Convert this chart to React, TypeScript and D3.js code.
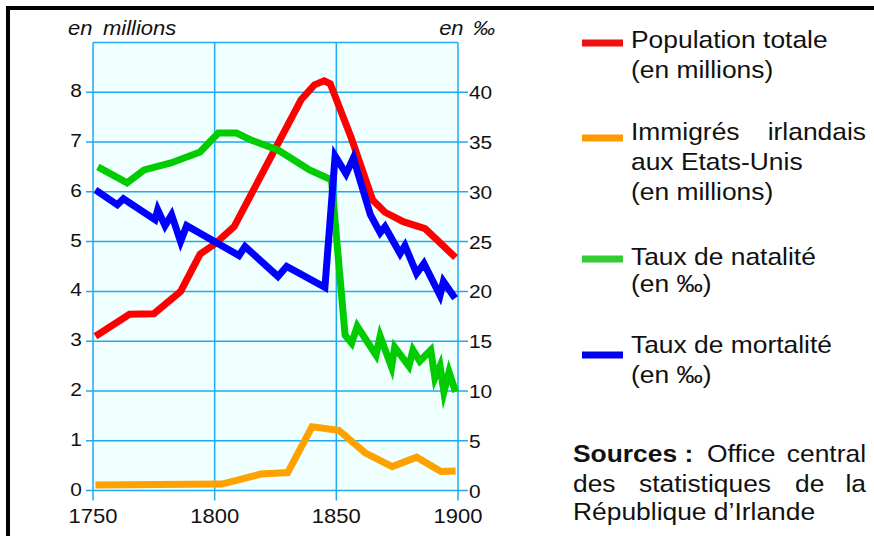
import * as d3 from 'd3';
import type { ReactNode } from 'react';

// population totale (millions)
const popYears = [1751, 1765, 1775, 1786, 1794, 1800, 1808, 1835.5, 1841, 1845, 1847.5, 1856, 1865, 1870, 1877.5, 1886.5, 1899];
const popValues = [3.1, 3.54, 3.55, 4.0, 4.75, 4.95, 5.3, 7.85, 8.15, 8.23, 8.17, 7.1, 5.83, 5.59, 5.4, 5.26, 4.68];

// immigres irlandais aux Etats-Unis (millions)
const emiYears = [1751, 1803, 1819, 1830, 1840, 1851, 1862, 1873, 1883, 1893, 1899];
const emiValues = [0.11, 0.13, 0.33, 0.36, 1.28, 1.21, 0.75, 0.48, 0.67, 0.38, 0.39];

// taux de natalite (pour mille)
const natYears = [1752, 1764, 1771, 1782, 1794, 1801.5, 1809, 1815, 1826, 1839, 1848, 1853.6, 1856.3, 1858.6, 1866.3, 1868, 1872.7, 1874, 1879.8, 1881.5, 1884.3, 1888.8, 1890.5, 1892.6, 1894.2, 1896.3, 1899];
const natValues = [32.5, 30.9, 32.2, 32.9, 34.0, 35.9, 35.9, 35.2, 34.2, 32.2, 31.2, 15.6, 14.8, 16.5, 13.6, 15.5, 12.4, 14.4, 12.5, 14.1, 13.0, 14.1, 11.3, 12.5, 9.9, 11.9, 9.9];

// taux de mortalite (pour mille)
const morYears = [1751, 1760, 1762.5, 1775.5, 1776.6, 1779.6, 1782.3, 1786, 1788.5, 1810, 1812.5, 1826, 1829.6, 1845.3, 1849.5, 1854, 1857, 1864, 1868, 1870, 1876.2, 1878.2, 1883, 1886, 1892.6, 1894, 1898.8];
const morValues = [30.2, 28.7, 29.3, 27.2, 28.2, 26.6, 27.7, 25.0, 26.6, 23.6, 24.5, 21.5, 22.5, 20.4, 33.6, 31.8, 33.4, 27.7, 25.9, 26.5, 23.8, 24.6, 21.8, 22.8, 19.6, 21.0, 19.3];

const yearTicks = [1750, 1800, 1850, 1900];
const leftTicks = [0, 1, 2, 3, 4, 5, 6, 7, 8];
const rightTicks = [0, 5, 10, 15, 20, 25, 30, 35, 40];

const FONT = '"Liberation Sans", Arial, sans-serif';
const GRID = '#1eaaf0';
const SX = 1.1; // the original lettering is a bit stretched sideways

const x = d3.scaleLinear().domain([1750, 1900]).range([93, 458]);
const yL = d3.scaleLinear().domain([0, 9]).range([490.5, 42.5]);
const yR = d3.scaleLinear().domain([0, 45]).range([490.5, 42.5]);

const makePath = (years: number[], values: number[], y: d3.ScaleLinear<number, number>) =>
  d3
    .line<number>()
    .x((_d, i) => x(years[i]))
    .y((d) => y(d))(values) as string;

const series = [
  { years: popYears, values: popValues, y: yL, color: '#ff0000' },
  { years: emiYears, values: emiValues, y: yL, color: '#ffa200' },
  { years: natYears, values: natValues, y: yR, color: '#00cc00' },
  { years: morYears, values: morValues, y: yR, color: '#0000ff' },
];

const legend = [
  { color: '#ee1111', y: 43, lines: [{ t: 'Population totale', b: 48 }, { t: '(en millions)', b: 78 }] },
  { color: '#ff9900', y: 138, lines: [{ t: 'aux Etats-Unis', b: 170 }, { t: '(en millions)', b: 200 }] },
  { color: '#33cc33', y: 259, lines: [{ t: 'Taux de natalité', b: 265 }, { t: '(en ‰)', b: 292 }] },
  { color: '#0000ee', y: 355, lines: [{ t: 'Taux de mortalité', b: 353 }, { t: '(en ‰)', b: 383 }] },
];

type TProps = {
  x: number;
  y: number;
  size: number;
  anchor?: 'start' | 'middle' | 'end';
  bold?: boolean;
  italic?: boolean;
  wordSpacing?: number;
  children: ReactNode;
};

const T = ({ x, y, size, anchor = 'start', bold, italic, wordSpacing, children }: TProps) => (
  <text
    transform={`translate(${x},${y}) scale(${SX},1)`}
    textAnchor={anchor}
    fontSize={size}
    fontWeight={bold ? 'bold' : 'normal'}
    fontStyle={italic ? 'italic' : 'normal'}
    wordSpacing={wordSpacing}
    fill="#111"
  >
    {children}
  </text>
);

export default function App() {
  const [x0, x1] = x.range();
  const [yb, yt] = yL.range();
  return (
    <svg
      width={874}
      height={536}
      style={{ position: 'absolute', left: 0, top: 0, background: '#fff' }}
      fontFamily={FONT}
    >
      {/* frame */}
      <rect x={8} y={8} width={900} height={600} fill="none" stroke="#000" strokeWidth={4} />

      {/* plot background */}
      <rect x={x0} y={yt} width={x1 - x0} height={yb - yt} fill="#f0ffff" />

      {/* grid */}
      {leftTicks.map((t) => (
        <line key={'h' + t} x1={x0 - 7} x2={x1 + 10} y1={yL(t)} y2={yL(t)} stroke={GRID} strokeWidth={1.5} />
      ))}
      <line x1={x0} x2={x1} y1={yt} y2={yt} stroke={GRID} strokeWidth={1.5} />
      {yearTicks.map((t) => (
        <line key={'v' + t} x1={x(t)} x2={x(t)} y1={yt} y2={yb + 10} stroke={GRID} strokeWidth={1.5} />
      ))}

      {/* series */}
      {series.map((s, i) => (
        <path
          key={i}
          d={makePath(s.years, s.values, s.y)}
          fill="none"
          stroke={s.color}
          strokeWidth={7}
          strokeLinejoin="miter"
          strokeMiterlimit={10}
        />
      ))}

      {/* axis labels */}
      {leftTicks.map((t) => (
        <T key={'l' + t} x={82} y={yL(t) + 5} size={19} anchor="end">
          {t}
        </T>
      ))}
      {rightTicks.map((t) => (
        <T key={'r' + t} x={469} y={yR(t) + 7} size={19}>
          {t}
        </T>
      ))}
      {yearTicks.map((t) => (
        <T key={'b' + t} x={x(t)} y={523} size={20} anchor="middle">
          {t}
        </T>
      ))}
      <T x={68} y={35} size={20} italic wordSpacing={4}>
        en millions
      </T>
      <T x={495} y={35} size={20} italic anchor="end" wordSpacing={3}>
        en ‰
      </T>

      {/* legend */}
      {legend.map((l, i) => (
        <g key={i}>
          <line x1={582} x2={623} y1={l.y} y2={l.y} stroke={l.color} strokeWidth={7} />
          {l.lines.map((ln, j) => (
            <T key={j} x={631} y={ln.b} size={24}>
              {ln.t}
            </T>
          ))}
        </g>
      ))}
      <T x={631} y={140} size={24}>Immigrés</T>
      <T x={866} y={140} size={24} anchor="end">irlandais</T>

      {/* sources */}
      <T x={573} y={462} size={24} bold>Sources :</T>
      <T x={707} y={462} size={24}>Office</T>
      <T x={866} y={462} size={24} anchor="end">central</T>
      <T x={573} y={492} size={24}>des</T>
      <T x={639} y={492} size={24}>statistiques</T>
      <T x={795} y={492} size={24}>de</T>
      <T x={866} y={492} size={24} anchor="end">la</T>
      <T x={573} y={520} size={24}>République d’Irlande</T>
    </svg>
  );
}
